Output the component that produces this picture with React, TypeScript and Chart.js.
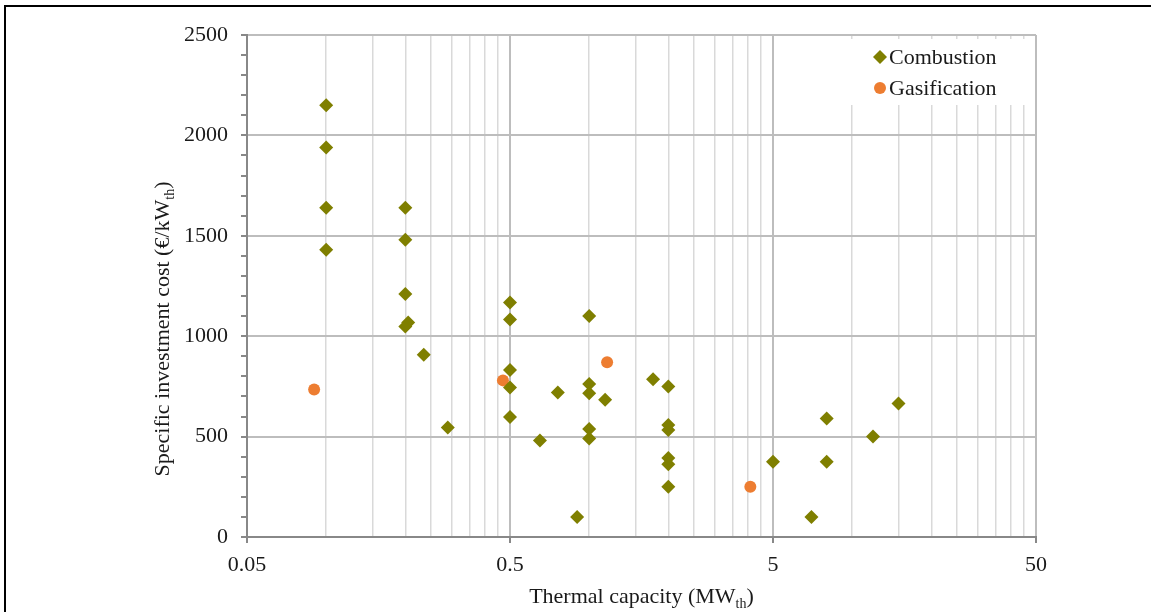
import React, { useEffect, useRef } from 'react';
import { Chart, registerables } from 'chart.js';

Chart.register(...registerables);

// ---- Data ----
const combustionX = [
  0.1, 0.1, 0.1, 0.1,
  0.2, 0.2, 0.2, 0.2, 0.205,
  0.235, 0.29,
  0.5, 0.5, 0.5, 0.5, 0.5,
  0.65, 0.76, 0.9,
  1, 1, 1, 1, 1,
  1.15, 1.75,
  2, 2, 2, 2, 2, 2,
  5, 7, 8, 8, 12, 15,
];
const combustionY = [
  2150, 1940, 1640, 1430,
  1640, 1480, 1210, 1048, 1068,
  908, 545,
  1168, 1083, 832, 745, 598,
  480, 720, 100,
  1100, 762, 716, 538, 490,
  683, 785,
  750, 558, 533, 393, 362, 250,
  375, 100, 590, 375, 500, 665,
];
const gasificationX = [0.09, 0.47, 1.17, 4.1];
const gasificationY = [735, 780, 870, 250];

const seriesNames = ['Combustion', 'Gasification'];
const xTickValues = [
  0.05, 0.1, 0.15, 0.2, 0.25, 0.3, 0.35, 0.4, 0.45,
  0.5, 1, 1.5, 2, 2.5, 3, 3.5, 4, 4.5,
  5, 10, 15, 20, 25, 30, 35, 40, 45, 50,
];
const xLabelValues = [0.05, 0.5, 5, 50];
const yMin = 0;
const yMax = 2500;
const yMinorStep = 100;
const yMajorStep = 500;
const xTitleParts = ['Thermal capacity (MW', 'th', ')'];
const yTitleParts = ['Specific investment cost (€/kW', 'th', ')'];

const COMB_COLOR = '#7f7f00';
const GAS_COLOR = '#ed7d31';
const FONT_FAMILY = "'Liberation Serif', 'Times New Roman', serif";
const TEXT_COLOR = '#1a1a1a';
const FONT_SIZE = 22;
const SUB_SIZE = 14;

const isLabelValue = (v: number) => xLabelValues.some((l) => Math.abs(l - v) < 1e-9);

function drawSubText(
  ctx: CanvasRenderingContext2D,
  parts: string[],
  cx: number,
  baseline: number,
  size: number,
  subSize: number
) {
  const big = `${size}px ${FONT_FAMILY}`;
  const small = `${subSize}px ${FONT_FAMILY}`;
  ctx.font = big;
  const w1 = ctx.measureText(parts[0]).width;
  const w3 = ctx.measureText(parts[2]).width;
  ctx.font = small;
  const w2 = ctx.measureText(parts[1]).width;
  const total = w1 + w2 + w3;
  let x = cx - total / 2;
  ctx.fillStyle = TEXT_COLOR;
  ctx.textAlign = 'left';
  ctx.textBaseline = 'alphabetic';
  ctx.font = big;
  ctx.fillText(parts[0], x, baseline);
  x += w1;
  ctx.font = small;
  ctx.fillText(parts[1], x, baseline + 5);
  x += w2;
  ctx.font = big;
  ctx.fillText(parts[2], x, baseline);
}

const decorPlugin = {
  id: 'decor',
  afterDraw(chart: any) {
    const ctx: CanvasRenderingContext2D = chart.ctx;
    const area = chart.chartArea;
    ctx.save();
    // outer frame (left + top)
    ctx.strokeStyle = '#000';
    ctx.lineWidth = 2;
    ctx.beginPath();
    ctx.moveTo(5, 612);
    ctx.lineTo(5, 6);
    ctx.lineTo(1151, 6);
    ctx.stroke();

    // axis titles
    drawSubText(ctx, xTitleParts, (area.left + area.right) / 2, 603, FONT_SIZE, SUB_SIZE);
    ctx.save();
    ctx.translate(169, 329);
    ctx.rotate(-Math.PI / 2);
    drawSubText(ctx, yTitleParts, 0, 0, FONT_SIZE, SUB_SIZE);
    ctx.restore();

    // legend box
    const bx = 848;
    const by = 39;
    ctx.fillStyle = '#ffffff';
    ctx.fillRect(bx, by, 184, 66);
    const items = [
      { y: 57, color: COMB_COLOR, style: 'rectRot', r: 7 },
      { y: 88, color: GAS_COLOR, style: 'circle', r: 6 },
    ];
    items.forEach((it, i) => {
      ctx.fillStyle = it.color;
      ctx.beginPath();
      if (it.style === 'rectRot') {
        ctx.moveTo(880, it.y - it.r);
        ctx.lineTo(880 + it.r, it.y);
        ctx.lineTo(880, it.y + it.r);
        ctx.lineTo(880 - it.r, it.y);
        ctx.closePath();
      } else {
        ctx.arc(880, it.y, it.r, 0, Math.PI * 2);
      }
      ctx.fill();
      ctx.fillStyle = TEXT_COLOR;
      ctx.font = `${FONT_SIZE}px ${FONT_FAMILY}`;
      ctx.textAlign = 'left';
      ctx.textBaseline = 'middle';
      ctx.fillText(seriesNames[i], 889, it.y + 1);
    });
    ctx.restore();
  },
};

export default function App() {
  const canvasRef = useRef<HTMLCanvasElement | null>(null);

  useEffect(() => {
    document.body.style.margin = '0';
    const canvas = canvasRef.current;
    if (!canvas) return;
    const chart = new Chart(canvas, {
      type: 'scatter',
      data: {
        datasets: [
          {
            label: seriesNames[0],
            data: combustionX.map((x, i) => ({ x, y: combustionY[i] })),
            backgroundColor: COMB_COLOR,
            borderColor: COMB_COLOR,
            pointStyle: 'rectRot',
            pointRadius: 7,
            borderWidth: 0,
          },
          {
            label: seriesNames[1],
            data: gasificationX.map((x, i) => ({ x, y: gasificationY[i] })),
            backgroundColor: GAS_COLOR,
            borderColor: GAS_COLOR,
            pointStyle: 'circle',
            pointRadius: 6,
            borderWidth: 0,
          },
        ],
      },
      options: {
        animation: false,
        responsive: false,
        devicePixelRatio: 1,
        layout: { padding: { left: 0, right: 115, top: 35, bottom: 0 } },
        plugins: {
          legend: { display: false },
          tooltip: { enabled: false },
        },
        scales: {
          x: {
            type: 'logarithmic',
            min: xTickValues[0],
            max: xTickValues[xTickValues.length - 1],
            afterBuildTicks: (scale: any) => {
              scale.ticks = xTickValues.map((v) => ({ value: v }));
            },
            afterFit: (scale: any) => {
              scale.height = 75;
            },
            ticks: {
              autoSkip: false,
              maxRotation: 0,
              minRotation: 0,
              padding: 9,
              color: TEXT_COLOR,
              font: { family: FONT_FAMILY, size: FONT_SIZE },
              callback: (value: any) => (isLabelValue(Number(value)) ? String(Number(value)) : ''),
            },
            grid: {
              color: (c: any) => (c.tick && isLabelValue(c.tick.value) ? '#bdbdbd' : '#d9d9d9'),
              lineWidth: (c: any) => (c.tick && isLabelValue(c.tick.value) ? 2 : 1.5),
              tickColor: (c: any) => (c.tick && isLabelValue(c.tick.value) ? '#888888' : 'rgba(0,0,0,0)'),
              tickLength: 6,
            },
            border: { display: true, color: '#888888', width: 2 },
          },
          y: {
            type: 'linear',
            min: yMin,
            max: yMax,
            afterFit: (scale: any) => {
              scale.width = 247;
            },
            ticks: {
              stepSize: yMinorStep,
              autoSkip: false,
              padding: 13,
              color: TEXT_COLOR,
              font: { family: FONT_FAMILY, size: FONT_SIZE },
              callback: (value: any) => (Number(value) % yMajorStep === 0 ? String(value) : ''),
            },
            grid: {
              color: (c: any) =>
                c.tick && c.tick.value % yMajorStep === 0 ? '#bdbdbd' : 'rgba(0,0,0,0)',
              lineWidth: 2,
              tickColor: '#888888',
              tickLength: 6,
            },
            border: { display: true, color: '#888888', width: 2 },
          },
        },
      },
      plugins: [decorPlugin],
    } as any);
    return () => chart.destroy();
  }, []);

  return (
    <div style={{ width: 1151, height: 612, position: 'relative' }}>
      <canvas ref={canvasRef} width={1151} height={612} />
    </div>
  );
}
